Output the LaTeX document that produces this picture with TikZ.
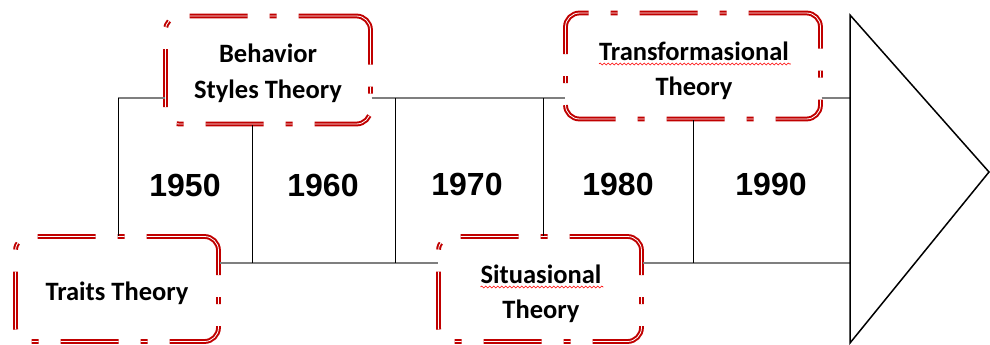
\documentclass[tikz,border=0pt]{standalone}
\usepackage{fontspec}
\newfontfamily\boxfont{Carlito}
\newfontfamily\yearfont{Liberation Sans}
\usetikzlibrary{decorations.pathmorphing}
\definecolor{boxred}{HTML}{C00000}
\definecolor{linegray}{HTML}{7F7F7F}
\tikzset{
  theorybox/.style={draw=boxred, double=white, double distance=0.8pt, line width=2pt,
    rounded corners=14pt, dash pattern=on 58pt off 22pt on 7pt off 22pt, inner sep=0pt},
  boxtext/.style={font=\boxfont\bfseries\fontsize{26.5}{36}\selectfont, inner sep=0pt, anchor=base},
  yearlabel/.style={font=\yearfont\bfseries\fontsize{32}{34}\selectfont, inner sep=0pt},
  grayline/.style={draw=linegray, line width=2.5pt},
  divider/.style={draw=black, line width=1pt},
  headline/.style={draw=black, line width=1.5pt, line join=miter},
  spell/.style={draw=red, line width=0.6pt, decorate,
    decoration={snake, amplitude=1pt, segment length=4pt}}
}
\begin{document}
\begin{tikzpicture}[x=1pt, y=-1pt]
\useasboundingbox (0,0) rectangle (990,345);

% arrow body reference coordinates
\coordinate (tl) at (118,98);
\coordinate (bl) at (118,263);
\coordinate (tr) at (850,98);
\coordinate (br) at (850,263);
\coordinate (h1) at (850,15);
\coordinate (h2) at (989,172);
\coordinate (h3) at (850,343);

% theory boxes
\node[theorybox, minimum width=203pt, minimum height=105pt] (traits) at (117,289) {};
\node[theorybox, minimum width=205pt, minimum height=108pt] (beh) at (268,70) {};
\node[theorybox, minimum width=203pt, minimum height=105pt] (sit) at (540,289) {};
\node[theorybox, minimum width=255pt, minimum height=106pt] (trans) at (693,66) {};

% box texts
\node[boxtext] (traits-l1) at (117,300) {Traits Theory};
\node[boxtext] (beh-l1) at (268,63) {Behavior};
\node[boxtext] (beh-l2) at (268,98) {Styles Theory};
\node[boxtext] (sit-l1) at (541,283) {Situasional};
\node[boxtext] (sit-l2) at (541,318) {Theory};
\node[boxtext] (trans-l1) at (694,60) {Transformasional};
\node[boxtext] (trans-l2) at (694,95) {Theory};

% horizontal gray lines
\draw[grayline] (tl) -- (beh.west |- tl);
\draw[grayline] (beh.east |- tl) -- (trans.west |- tl);
\draw[grayline] (trans.east |- tl) -- (tr);
\draw[grayline] (traits.east |- bl) -- (sit.west |- bl);
\draw[grayline] (sit.east |- bl) -- (br);

% dividers
\coordinate (d1) at (252,263);
\coordinate (d2t) at (395,98);
\coordinate (d2b) at (395,263);
\coordinate (d3) at (543,98);
\coordinate (d4) at (693,263);
\draw[divider] (tl) -- (tl |- traits.north);
\draw[divider] (d1 |- beh.south) -- (d1);
\draw[divider] (d2t) -- (d2b);
\draw[divider] (d3) -- (d3 |- sit.north);
\draw[divider] (d4 |- trans.south) -- (d4);

% arrow head
\draw[headline] (h1) -- (h2) -- (h3) -- cycle;

% years
\node[yearlabel] (y1950) at (185,185) {1950};
\node[yearlabel] (y1960) at (323,185) {1960};
\node[yearlabel] (y1970) at (467,184) {1970};
\node[yearlabel] (y1980) at (618,184) {1980};
\node[yearlabel] (y1990) at (771,184) {1990};

% spell-check underlines
\draw[spell] (sit-l1.base west) ++(0,4) -- ++(123,0);
\draw[spell] (trans-l1.base west) ++(0,4) -- ++(192,0);
\end{tikzpicture}
\end{document}
